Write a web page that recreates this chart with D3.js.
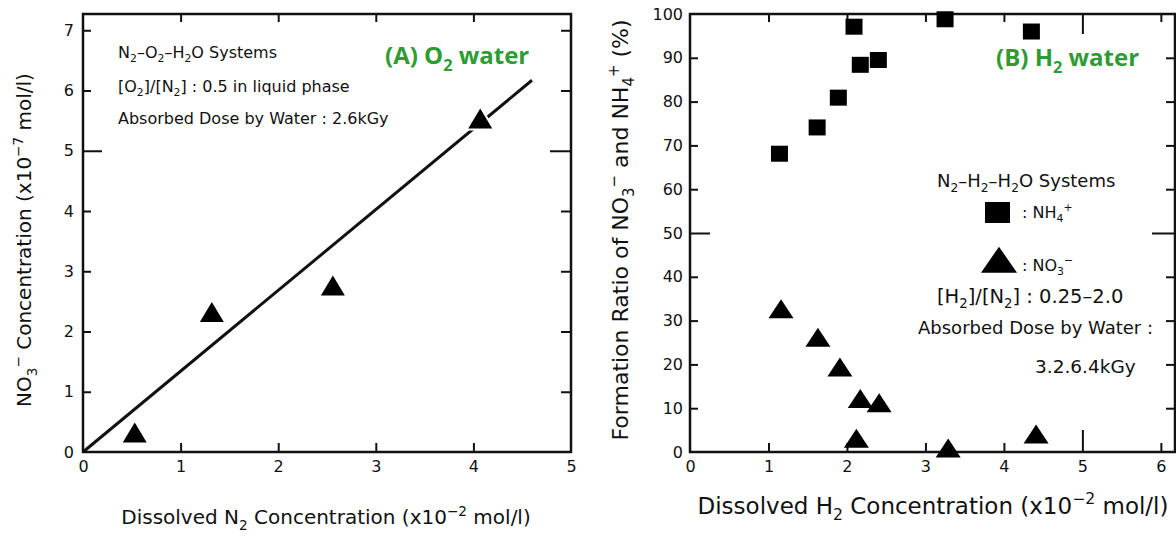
<!DOCTYPE html>
<html>
<head>
<meta charset="utf-8">
<script src="https://cdn.jsdelivr.net/npm/d3@7"></script>
<style>
  body { margin: 0; background: #fff; }
  text { font-family: "DejaVu Sans", sans-serif; fill: #111; }
</style>
</head>
<body>
<svg id="chart" width="1176" height="537"></svg>
<script>
// (A) O2 water: NO3- concentration vs dissolved N2
const o2X = [0.53, 1.32, 2.56, 4.07];
const o2Y = [0.27, 2.27, 2.71, 5.48];
// fitted line, start and end
const fitX = [0, 4.6];
const fitY = [0, 6.17];
const leftXTicks = [0, 1, 2, 3, 4, 5];
const leftYTicks = [0, 1, 2, 3, 4, 5, 6, 7];

// (B) H2 water: formation ratio vs dissolved H2
const nh4X = [1.14, 1.62, 1.89, 2.09, 2.17, 2.40, 3.25, 4.35];
const nh4Y = [68.1, 74.1, 80.9, 97.1, 88.4, 89.5, 98.8, 96.0];
const no3X = [1.16, 1.63, 1.91, 2.17, 2.41, 2.12, 3.29, 4.41];
const no3Y = [32.0, 25.5, 18.7, 11.5, 10.5, 2.4, 0.2, 3.4];
const rightXTicks = [0, 1, 2, 3, 4, 5, 6];
const rightYTicks = [0, 10, 20, 30, 40, 50, 60, 70, 80, 90, 100];

const green = "#2d9c32";
const svg = d3.select("#chart");
svg.append("rect").attr("width", 1176).attr("height", 537).attr("fill", "#fff");

// text with sub/superscripts: parts = [[text, ""|"sub"|"sup"], ...]
function rich(sel, parts, size) {
    let shift = 0;
    parts.forEach(([t, m]) => {
        let target = m === "sub" ? 0.28 : m === "sup" ? -0.42 : 0;
        sel.append("tspan")
            .attr("dy", ((target - shift) * size) + "px")
            .attr("font-size", m ? size * 0.68 : size)
            .text(t);
        shift = target;
    });
    return sel;
}

function triPath(w, h) {
    return `M0,${-2 * h / 3}L${w / 2},${h / 3}L${-w / 2},${h / 3}Z`;
}

function styleAxis(g) {
    g.select(".domain").remove();
    g.selectAll(".tick line").attr("stroke", "#111").attr("stroke-width", 2);
    g.selectAll(".tick text").attr("font-size", 16).attr("fill", "#111")
        .style("font-family", "DejaVu Sans");
}

// ---------- left panel ----------
const xL = d3.scaleLinear().domain([0, 5]).range([83, 571]);
const yL = d3.scaleLinear().domain([0, 7.27]).range([452, 14]);

const left = svg.append("g");

left.append("g").attr("transform", `translate(0,${yL(0)})`)
    .call(d3.axisBottom(xL).tickValues(leftXTicks).tickSize(-9).tickPadding(9).tickFormat(d3.format("d")))
    .call(styleAxis)
    .call(g => g.selectAll(".tick line").filter(d => d === 0 || d === 5).remove());

left.append("g").attr("transform", `translate(0,${yL.range()[1]})`)
    .call(d3.axisTop(xL).tickValues([1, 2, 3, 4]).tickSize(-8).tickFormat(""))
    .call(styleAxis);

left.append("g").attr("transform", `translate(${xL(0)},0)`)
    .call(d3.axisLeft(yL).tickValues(leftYTicks).tickSize(-8).tickPadding(9).tickFormat(d3.format("d")))
    .call(styleAxis)
    .call(g => g.selectAll(".tick line").attr("x2", d => d === 5 ? 19 : 8)
        .filter(d => d === 0).remove());

left.append("g").attr("transform", `translate(${xL(5)},0)`)
    .call(d3.axisRight(yL).tickValues(leftYTicks.slice(1)).tickSize(-9).tickFormat(""))
    .call(styleAxis)
    .call(g => g.selectAll(".tick line").attr("x2", d => d === 5 ? -21 : -10));

left.append("rect")
    .attr("x", xL(0)).attr("y", yL.range()[1])
    .attr("width", xL(5) - xL(0)).attr("height", yL(0) - yL.range()[1])
    .attr("fill", "none").attr("stroke", "#111").attr("stroke-width", 2.5);

left.append("path")
    .datum(fitX.map((x, i) => [x, fitY[i]]))
    .attr("d", d3.line().x(d => xL(d[0])).y(d => yL(d[1])))
    .attr("stroke", "#111").attr("stroke-width", 3).attr("fill", "none");

left.selectAll(".o2tri").data(o2X.map((x, i) => [x, o2Y[i]])).join("path")
    .attr("class", "o2tri")
    .attr("transform", d => `translate(${xL(d[0])},${yL(d[1])})`)
    .attr("d", triPath(24, 20))
    .attr("fill", "#000").attr("stroke", "#fff").attr("stroke-width", 4)
    .style("paint-order", "stroke");

// annotations
rich(left.append("text").attr("x", 118).attr("y", 58),
    [["N", ""], ["2", "sub"], ["–O", ""], ["2", "sub"], ["–H", ""], ["2", "sub"], ["O Systems", ""]], 16);
rich(left.append("text").attr("x", 118).attr("y", 92),
    [["[O", ""], ["2", "sub"], ["]/[N", ""], ["2", "sub"], ["] : 0.5 in liquid phase", ""]], 16);
rich(left.append("text").attr("x", 118).attr("y", 124),
    [["Absorbed Dose by Water : 2.6kGy", ""]], 16);

rich(left.append("text").attr("x", 385).attr("y", 64)
        .style("font-family", "Open Sans").attr("font-weight", "bold").style("fill", green),
    [["(A) O", ""], ["2", "sub"], [" water", ""]], 24);

rich(left.append("text").attr("x", 326).attr("y", 524).attr("text-anchor", "middle"),
    [["Dissolved N", ""], ["2", "sub"], [" Concentration  (x10", ""], ["−2", "sup"], [" mol/l)", ""]], 20);

rich(left.append("text").attr("transform", "translate(31,240) rotate(-90)").attr("text-anchor", "middle"),
    [["NO", ""], ["3", "sub"], ["−", "sup"], [" Concentration  (x10", ""], ["−7", "sup"], [" mol/l)", ""]], 20);

// ---------- right panel ----------
const xR = d3.scaleLinear().domain([0, 6.18]).range([690, 1175]);
const yR = d3.scaleLinear().domain([0, 100]).range([452, 14]);

const right = svg.append("g");

right.append("g").attr("transform", `translate(0,${yR(0)})`)
    .call(d3.axisBottom(xR).tickValues(rightXTicks).tickSize(-9).tickPadding(9).tickFormat(d3.format("d")))
    .call(styleAxis)
    .call(g => g.selectAll(".tick line").attr("y2", d => d === 5 ? -22 : -9)
        .filter(d => d === 0).remove());

right.append("g").attr("transform", `translate(0,${yR(100)})`)
    .call(d3.axisTop(xR).tickValues(rightXTicks.slice(1)).tickSize(-8).tickFormat(""))
    .call(styleAxis)
    .call(g => g.selectAll(".tick line").attr("y2", d => d === 5 ? 20 : 8));

right.append("g").attr("transform", `translate(${xR.range()[0]},0)`)
    .call(d3.axisLeft(yR).tickValues(rightYTicks).tickSize(-8).tickPadding(7))
    .call(styleAxis)
    .call(g => g.selectAll(".tick line").attr("x2", d => d === 50 ? 20 : 8)
        .filter(d => d === 0 || d === 100).remove());

right.append("g").attr("transform", `translate(${xR.range()[1]},0)`)
    .call(d3.axisRight(yR).tickValues(rightYTicks.slice(1, -1)).tickSize(-9).tickFormat(""))
    .call(styleAxis)
    .call(g => g.selectAll(".tick line").attr("x2", d => d === 50 ? -23 : -9));

right.append("rect")
    .attr("x", xR.range()[0]).attr("y", yR(100))
    .attr("width", xR.range()[1] - xR.range()[0]).attr("height", yR(0) - yR(100))
    .attr("fill", "none").attr("stroke", "#111").attr("stroke-width", 2.5);

right.selectAll(".nh4").data(nh4X.map((x, i) => [x, nh4Y[i]])).join("rect")
    .attr("class", "nh4")
    .attr("x", d => xR(d[0]) - 8.5).attr("y", d => yR(d[1]) - 8)
    .attr("width", 17).attr("height", 16)
    .attr("fill", "#000");

right.selectAll(".no3").data(no3X.map((x, i) => [x, no3Y[i]])).join("path")
    .attr("class", "no3")
    .attr("transform", d => `translate(${xR(d[0])},${yR(d[1])})`)
    .attr("d", triPath(25, 19))
    .attr("fill", "#000");

// legend and notes
rich(right.append("text").attr("x", 937).attr("y", 187),
    [["N", ""], ["2", "sub"], ["–H", ""], ["2", "sub"], ["–H", ""], ["2", "sub"], ["O Systems", ""]], 18);
right.append("rect").attr("x", 985).attr("y", 202).attr("width", 25).attr("height", 21).attr("fill", "#000");
rich(right.append("text").attr("x", 1022).attr("y", 218),
    [[": NH", ""], ["4", "sub"], ["+", "sup"]], 16);
right.append("path").attr("transform", "translate(999,264)").attr("d", triPath(36, 26)).attr("fill", "#000");
rich(right.append("text").attr("x", 1022).attr("y", 271),
    [[": NO", ""], ["3", "sub"], ["−", "sup"]], 16);
rich(right.append("text").attr("x", 937).attr("y", 303),
    [["[H", ""], ["2", "sub"], ["]/[N", ""], ["2", "sub"], ["] : 0.25–2.0", ""]], 19.5);
rich(right.append("text").attr("x", 918).attr("y", 334),
    [["Absorbed Dose by Water :", ""]], 18);
rich(right.append("text").attr("x", 1035).attr("y", 373),
    [["3.2.6.4kGy", ""]], 18.5);

rich(right.append("text").attr("x", 996).attr("y", 66)
        .style("font-family", "Open Sans").attr("font-weight", "bold").style("fill", green),
    [["(B) H", ""], ["2", "sub"], [" water", ""]], 24);

rich(right.append("text").attr("x", 933).attr("y", 514).attr("text-anchor", "middle"),
    [["Dissolved H", ""], ["2", "sub"], [" Concentration  (x10", ""], ["−2", "sup"], [" mol/l)", ""]], 23);

rich(right.append("text").attr("transform", "translate(628,230) rotate(-90)").attr("text-anchor", "middle"),
    [["Formation Ratio of NO", ""], ["3", "sub"], ["−", "sup"], [" and NH", ""], ["4", "sub"], ["+", "sup"], ["  (%)", ""]], 22);
</script>
</body>
</html>
